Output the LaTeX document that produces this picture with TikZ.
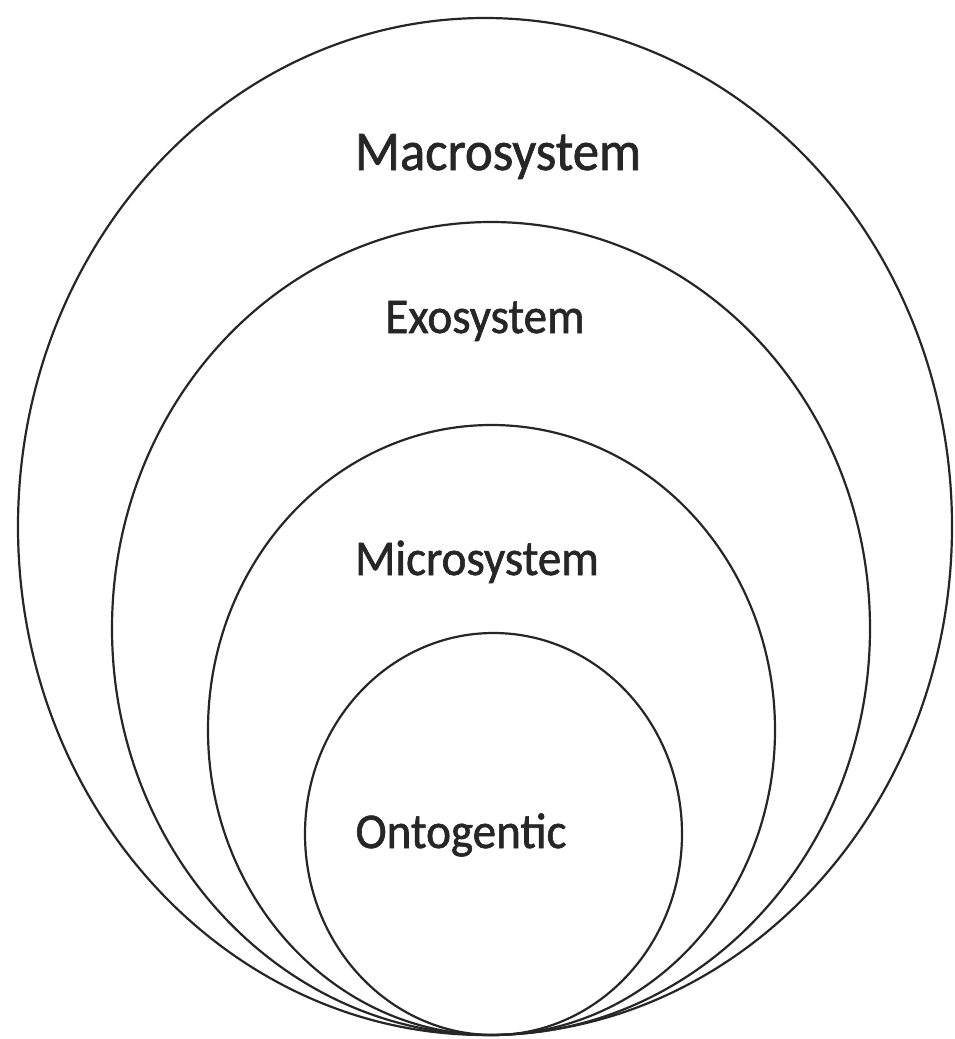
\documentclass[tikz,border=0pt]{standalone}
\usepackage{fontspec}
\newfontfamily\lab[FakeStretch=0.94,FakeBold=1.2]{Carlito}
\begin{document}
\begin{tikzpicture}[x=1pt,y=-1pt,
  ring/.style={draw=black!85,line width=2.2pt},
  lbl/.style={anchor=base,inner sep=0pt,text=black!85,font=\lab\fontsize{50}{60}\selectfont}]
\useasboundingbox (0,0) rectangle (955,1039);
\draw[ring] (485,526.5) ellipse [x radius=467,y radius=508.5];
\draw[ring] (491,628.5) ellipse [x radius=379,y radius=406.5];
\draw[ring] (491.5,730) ellipse [x radius=283.5,y radius=305];
\draw[ring] (493.5,834) ellipse [x radius=188.5,y radius=201];
\node[lbl,font=\lab\fontsize{56}{66}\selectfont] (macro) at (498,170) {Macrosystem};
\node[lbl] (exo) at (485,333) {Exosystem};
\node[lbl] (micro) at (477,575) {Microsystem};
\node[lbl] (onto) at (461,848) {Ontogentic};
\end{tikzpicture}
\end{document}
